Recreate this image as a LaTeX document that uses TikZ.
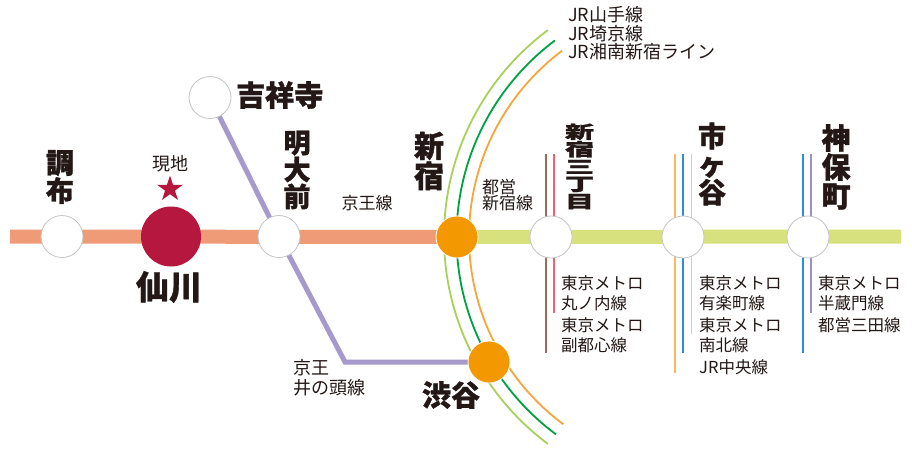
\documentclass[tikz,border=0pt]{standalone}
\usepackage{fontspec}
\usepackage{graphicx}
\newfontfamily\jp{Noto Sans CJK JP}[BoldFeatures={FakeBold=1.2}]
\usetikzlibrary{shapes.geometric}
\definecolor{keio}{HTML}{F09B77}
\definecolor{toei}{HTML}{D7E27F}
\definecolor{inok}{HTML}{A59ACB}
\definecolor{jrlg}{HTML}{A8D15A}
\definecolor{jrdg}{HTML}{00A142}
\definecolor{jror}{HTML}{F6A63B}
\definecolor{stor}{HTML}{F39800}
\definecolor{crim}{HTML}{B5173F}
\definecolor{maru}{HTML}{E8607A}
\definecolor{fuku}{HTML}{9C6A5E}
\definecolor{chuo}{HTML}{F7B860}
\definecolor{namb}{HTML}{2A8FD6}
\definecolor{yura}{HTML}{F3E100}
\definecolor{hanz}{HTML}{9A90C8}
\definecolor{mita}{HTML}{2A8FD6}
\definecolor{ring}{HTML}{C4C4C4}
\definecolor{ink}{HTML}{231815}
\begin{document}
\begin{tikzpicture}[x=1pt,y=-1pt,
  stn/.style={circle,draw=ring,line width=0.8pt,fill=white,minimum size=42pt,inner sep=0pt},
  hub/.style={circle,draw=white,line width=0.8pt,fill=stor,minimum size=42pt,inner sep=0pt},
  big/.style={font=\jp\bfseries\fontsize{#1}{#1}\selectfont,text=ink,inner sep=0pt,align=center},
  small/.style={font=\jp\fontsize{16.5}{20}\selectfont,text=ink,inner sep=0pt,align=left,anchor=west},
  thickline/.style={line width=14pt},
  jrline/.style={line width=1.8pt},
  subline/.style={line width=1.8pt}]
\useasboundingbox[fill=white] (0,0) rectangle (912,459);
% coordinates
\coordinate (kL) at (10,236.5);
\coordinate (tR) at (901,236.5);
\coordinate (pChofu) at (62,236.5);
\coordinate (pSengawa) at (171,236.5);
\coordinate (pMeidai) at (279,236.5);
\coordinate (pKichi) at (210,97.5);
\coordinate (pShinjuku) at (457,237);
\coordinate (pS3) at (551,237);
\coordinate (pIchi) at (683,237);
\coordinate (pJimbo) at (808,237);
\coordinate (pShibuya) at (489,362);
\coordinate (bend) at (345,362);
% main lines
\draw[keio,thickline] (kL) -- (pShinjuku);
\draw[toei,thickline] (pShinjuku) -- (tR);
\draw[inok,line width=5pt,line join=miter] (pKichi) -- (pMeidai) -- (bend) -- (pShibuya);
% JR arcs
\draw[jrlg,jrline] plot[domain=126.7:233.3,samples=80,smooth] ({702+258*cos(\x)},{237+258*sin(\x)});
\draw[jrdg,jrline] plot[domain=126.5:233.2,samples=80,smooth] ({702+245.5*cos(\x)},{237+245.5*sin(\x)});
\draw[jror,jrline] plot[domain=126.5:233.1,samples=80,smooth] ({702+233*cos(\x)},{237+233*sin(\x)});
% crossing lines
\coordinate (f1) at (546,154); \coordinate (f2) at (546,353);
\coordinate (m1) at (554,154); \coordinate (m2) at (554,313);
\draw[fuku,subline] (f1) -- (f2);
\draw[maru,subline] (m1) -- (m2);
\coordinate (c1) at (675,154); \coordinate (c2) at (675,373);
\coordinate (n1) at (683,154); \coordinate (n2) at (683,353);
\coordinate (y1) at (691.5,154); \coordinate (y2) at (691.5,334);
\draw[chuo,subline] (c1) -- (c2);
\draw[namb,subline] (n1) -- (n2);
\draw[yura,subline] (y1) -- (y2);
\coordinate (mi1) at (803,154); \coordinate (mi2) at (803,353);
\coordinate (h1) at (811,154); \coordinate (h2) at (811,313);
\draw[mita,subline] (mi1) -- (mi2);
\draw[hanz,subline] (h1) -- (h2);
% stations
\node[stn] (chofu) at (pChofu) {};
\node[circle,fill=crim,minimum size=60pt,inner sep=0pt] (sengawa) at (pSengawa) {};
\node[stn] (meidai) at (pMeidai) {};
\node[stn] (kichi) at (pKichi) {};
\node[hub] (shinjuku) at (pShinjuku) {};
\node[stn] (s3) at (pS3) {};
\node[stn] (ichi) at (pIchi) {};
\node[stn] (jimbo) at (pJimbo) {};
\node[hub] (shibuya) at (pShibuya) {};
% star and current location
\node[star,star points=5,star point ratio=2.6,fill=crim,minimum size=27pt,inner sep=0pt] (star) at (170,189) {};
\node[small,anchor=center,font=\jp\fontsize{18}{20}\selectfont] (genchi) at (170,164) {現地};
% station names
\node[big=28] (lChofu) at (60,177) {調\\布};
\node[big=33] (lSengawa) at (169,287) {仙川};
\node[big=27] (lMeidai) at (297,170) {明\\大\\前};
\node[big=29,anchor=west] (lKichi) at (236,95) {吉祥寺};
\node[big=30] (lShinjuku) at (429,161) {新\\宿};
\begin{scope}[shift={(579.5,166.5)},yscale=0.6]
\node[big=29,transform shape] (lS3) at (0,0) {新\\宿\\三\\丁\\目};
\end{scope}
\node[big=28] (lIchi) at (712,164) {市\\ヶ\\谷};
\node[big=29] (lJimbo) at (836,167) {神\\保\\町};
\node[big=29] (lShibuya) at (451,395) {渋谷};
% line labels
\node[small,anchor=center,font=\jp\fontsize{17}{20}\selectfont] (tKeio) at (367,203) {京王線};
\node[small,font=\jp\fontsize{17}{16.5}\selectfont] (tToei) at (482,195) {都営\\新宿線};
\node[small,font=\jp\fontsize{18}{18.5}\selectfont] (tJR) at (568,33.5) {JR山手線\\JR埼京線\\JR湘南新宿ライン};
\node[small,font=\jp\fontsize{18}{20}\selectfont] (tInok) at (293,378) {京王\\井の頭線};
\node[small] (tMaru) at (561,293) {東京メトロ\\丸ノ内線};
\node[small] (tFuku) at (561,335) {東京メトロ\\副都心線};
\node[small] (tYura) at (699,293) {東京メトロ\\有楽町線};
\node[small] (tNamb) at (699,335) {東京メトロ\\南北線};
\node[small] (tChuo) at (699,367) {JR中央線};
\node[small] (tHanz) at (818,293) {東京メトロ\\半蔵門線};
\node[small] (tMita) at (818,325) {都営三田線};
\end{tikzpicture}
\end{document}
